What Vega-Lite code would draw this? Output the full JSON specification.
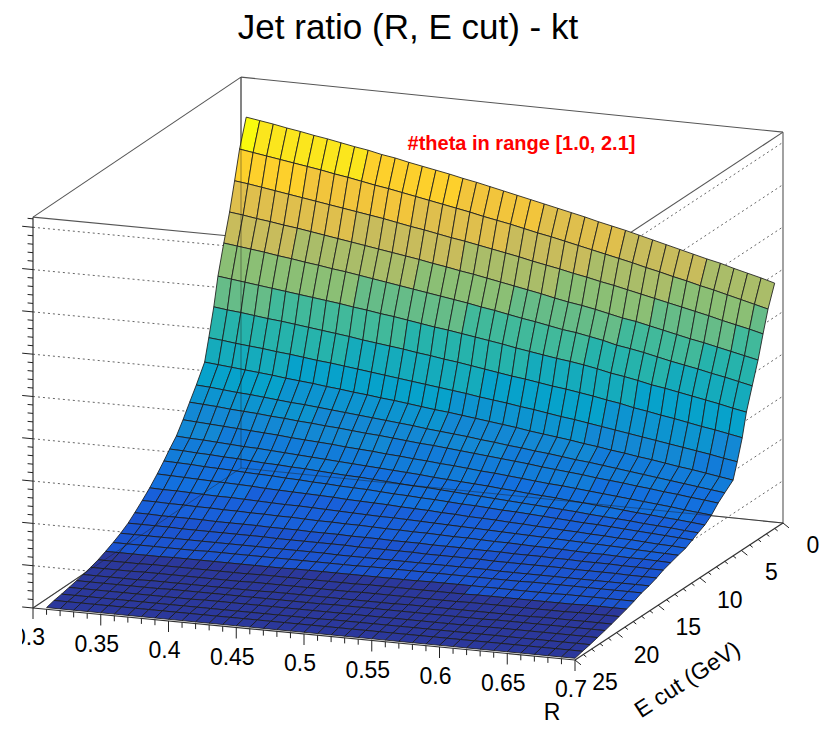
{"$schema":"https://vega.github.io/schema/vega-lite/v6.json","width":798,"height":729,"autosize":{"type":"none"},"padding":{"left":22,"top":0,"right":0,"bottom":0},"background":"white","config":{"view":{"stroke":null}},
"title":{"text":"Jet ratio (R, E cut) - kt","fontSize":35,"font":"Liberation Sans","fontWeight":"normal","color":"#000","anchor":"middle","dx":-13,"offset":-46},
"datasets":{
"frame":[
{"g":"edge","R":0.3,"E":25,"z":92.4,"R2":0.3,"E2":0,"z2":92.4},
{"g":"edge","R":0.3,"E":0,"z":92.4,"R2":0.7,"E2":0,"z2":92.4},
{"g":"edge","R":0.7,"E":0,"z":92.4,"R2":0.7,"E2":25,"z2":92.4},
{"g":"edge","R":0.3,"E":25,"z":92.4,"R2":0.7,"E2":25,"z2":92.4},
{"g":"edge","R":0.3,"E":0,"z":0,"R2":0.3,"E2":0,"z2":92.4},
{"g":"edge","R":0.7,"E":0,"z":0,"R2":0.7,"E2":0,"z2":92.4},
{"g":"edge","R":0.3,"E":0,"z":0,"R2":0.7,"E2":0,"z2":0},
{"g":"edge","R":0.3,"E":0,"z":0,"R2":0.3,"E2":25,"z2":0},
{"g":"over","R":0.3,"E":0,"z":0,"R2":0.3,"E2":0,"z2":92.4},
{"g":"over","R":0.3,"E":0,"z":0,"R2":0.7,"E2":0,"z2":0},
{"g":"over","R":0.3,"E":0,"z":0,"R2":0.3,"E2":25,"z2":0},
{"g":"axis","R":0.3,"E":25,"z":0,"R2":0.3,"E2":25,"z2":92.4},
{"g":"axis","R":0.3,"E":25,"z":0,"R2":0.7,"E2":25,"z2":0},
{"g":"axis","R":0.7,"E":25,"z":0,"R2":0.7,"E2":0,"z2":0},
{"g":"dot","R":0.3,"E":25,"z":10,"R2":0.7,"E2":25,"z2":10},
{"g":"dot","R":0.3,"E":25,"z":20,"R2":0.7,"E2":25,"z2":20},
{"g":"dot","R":0.3,"E":25,"z":30,"R2":0.7,"E2":25,"z2":30},
{"g":"dot","R":0.3,"E":25,"z":40,"R2":0.7,"E2":25,"z2":40},
{"g":"dot","R":0.3,"E":25,"z":50,"R2":0.7,"E2":25,"z2":50},
{"g":"dot","R":0.3,"E":25,"z":60,"R2":0.7,"E2":25,"z2":60},
{"g":"dot","R":0.3,"E":25,"z":70,"R2":0.7,"E2":25,"z2":70},
{"g":"dot","R":0.3,"E":25,"z":80,"R2":0.7,"E2":25,"z2":80},
{"g":"dot","R":0.3,"E":25,"z":90,"R2":0.7,"E2":25,"z2":90},
{"g":"dot","R":0.7,"E":25,"z":10,"R2":0.7,"E2":0,"z2":10},
{"g":"dot","R":0.7,"E":25,"z":20,"R2":0.7,"E2":0,"z2":20},
{"g":"dot","R":0.7,"E":25,"z":30,"R2":0.7,"E2":0,"z2":30},
{"g":"dot","R":0.7,"E":25,"z":40,"R2":0.7,"E2":0,"z2":40},
{"g":"dot","R":0.7,"E":25,"z":50,"R2":0.7,"E2":0,"z2":50},
{"g":"dot","R":0.7,"E":25,"z":60,"R2":0.7,"E2":0,"z2":60},
{"g":"dot","R":0.7,"E":25,"z":70,"R2":0.7,"E2":0,"z2":70},
{"g":"dot","R":0.7,"E":25,"z":80,"R2":0.7,"E2":0,"z2":80},
{"g":"dot","R":0.7,"E":25,"z":90,"R2":0.7,"E2":0,"z2":90}
],
"ticks":[
{"a":"R","v":0.3,"m":1},{"a":"R","v":0.31,"m":0},{"a":"R","v":0.32,"m":0},{"a":"R","v":0.33,"m":0},{"a":"R","v":0.34,"m":0},{"a":"R","v":0.35,"m":1},{"a":"R","v":0.36,"m":0},{"a":"R","v":0.37,"m":0},{"a":"R","v":0.38,"m":0},{"a":"R","v":0.39,"m":0},{"a":"R","v":0.4,"m":1},{"a":"R","v":0.41,"m":0},{"a":"R","v":0.42,"m":0},{"a":"R","v":0.43,"m":0},{"a":"R","v":0.44,"m":0},{"a":"R","v":0.45,"m":1},{"a":"R","v":0.46,"m":0},{"a":"R","v":0.47,"m":0},{"a":"R","v":0.48,"m":0},{"a":"R","v":0.49,"m":0},{"a":"R","v":0.5,"m":1},{"a":"R","v":0.51,"m":0},{"a":"R","v":0.52,"m":0},{"a":"R","v":0.53,"m":0},{"a":"R","v":0.54,"m":0},{"a":"R","v":0.55,"m":1},{"a":"R","v":0.56,"m":0},{"a":"R","v":0.57,"m":0},{"a":"R","v":0.58,"m":0},{"a":"R","v":0.59,"m":0},{"a":"R","v":0.6,"m":1},{"a":"R","v":0.61,"m":0},{"a":"R","v":0.62,"m":0},{"a":"R","v":0.63,"m":0},{"a":"R","v":0.64,"m":0},{"a":"R","v":0.65,"m":1},{"a":"R","v":0.66,"m":0},{"a":"R","v":0.67,"m":0},{"a":"R","v":0.68,"m":0},{"a":"R","v":0.69,"m":0},{"a":"R","v":0.7,"m":1},
{"a":"E","v":0,"m":1},{"a":"E","v":1,"m":0},{"a":"E","v":2,"m":0},{"a":"E","v":3,"m":0},{"a":"E","v":4,"m":0},{"a":"E","v":5,"m":1},{"a":"E","v":6,"m":0},{"a":"E","v":7,"m":0},{"a":"E","v":8,"m":0},{"a":"E","v":9,"m":0},{"a":"E","v":10,"m":1},{"a":"E","v":11,"m":0},{"a":"E","v":12,"m":0},{"a":"E","v":13,"m":0},{"a":"E","v":14,"m":0},{"a":"E","v":15,"m":1},{"a":"E","v":16,"m":0},{"a":"E","v":17,"m":0},{"a":"E","v":18,"m":0},{"a":"E","v":19,"m":0},{"a":"E","v":20,"m":1},{"a":"E","v":21,"m":0},{"a":"E","v":22,"m":0},{"a":"E","v":23,"m":0},{"a":"E","v":24,"m":0},{"a":"E","v":25,"m":1},
{"a":"Z","v":0,"m":1},{"a":"Z","v":2,"m":0},{"a":"Z","v":4,"m":0},{"a":"Z","v":6,"m":0},{"a":"Z","v":8,"m":0},{"a":"Z","v":10,"m":1},{"a":"Z","v":12,"m":0},{"a":"Z","v":14,"m":0},{"a":"Z","v":16,"m":0},{"a":"Z","v":18,"m":0},{"a":"Z","v":20,"m":1},{"a":"Z","v":22,"m":0},{"a":"Z","v":24,"m":0},{"a":"Z","v":26,"m":0},{"a":"Z","v":28,"m":0},{"a":"Z","v":30,"m":1},{"a":"Z","v":32,"m":0},{"a":"Z","v":34,"m":0},{"a":"Z","v":36,"m":0},{"a":"Z","v":38,"m":0},{"a":"Z","v":40,"m":1},{"a":"Z","v":42,"m":0},{"a":"Z","v":44,"m":0},{"a":"Z","v":46,"m":0},{"a":"Z","v":48,"m":0},{"a":"Z","v":50,"m":1},{"a":"Z","v":52,"m":0},{"a":"Z","v":54,"m":0},{"a":"Z","v":56,"m":0},{"a":"Z","v":58,"m":0},{"a":"Z","v":60,"m":1},{"a":"Z","v":62,"m":0},{"a":"Z","v":64,"m":0},{"a":"Z","v":66,"m":0},{"a":"Z","v":68,"m":0},{"a":"Z","v":70,"m":1},{"a":"Z","v":72,"m":0},{"a":"Z","v":74,"m":0},{"a":"Z","v":76,"m":0},{"a":"Z","v":78,"m":0},{"a":"Z","v":80,"m":1},{"a":"Z","v":82,"m":0},{"a":"Z","v":84,"m":0},{"a":"Z","v":86,"m":0},{"a":"Z","v":88,"m":0},{"a":"Z","v":90,"m":1},{"a":"Z","v":92,"m":0}],
"labels":[{"t":"0.3","R":0.3,"E":25,"a":"R"},{"t":"0.35","R":0.35,"E":25,"a":"R"},{"t":"0.4","R":0.4,"E":25,"a":"R"},{"t":"0.45","R":0.45,"E":25,"a":"R"},{"t":"0.5","R":0.5,"E":25,"a":"R"},{"t":"0.55","R":0.55,"E":25,"a":"R"},{"t":"0.6","R":0.6,"E":25,"a":"R"},{"t":"0.65","R":0.65,"E":25,"a":"R"},{"t":"0.7","R":0.7,"E":25,"a":"R"},{"t":"0","R":0.7,"E":0,"a":"E"},{"t":"5","R":0.7,"E":5,"a":"E"},{"t":"10","R":0.7,"E":10,"a":"E"},{"t":"15","R":0.7,"E":15,"a":"E"},{"t":"20","R":0.7,"E":20,"a":"E"},{"t":"25","R":0.7,"E":25,"a":"E"}],
"surface":[
{"R":0.31,"E":1,"z":84.6},{"R":0.32,"E":1,"z":84.1},{"R":0.33,"E":1,"z":83.6},{"R":0.34,"E":1,"z":83.0},{"R":0.35,"E":1,"z":82.5},{"R":0.36,"E":1,"z":81.9},{"R":0.37,"E":1,"z":81.4},{"R":0.38,"E":1,"z":80.8},{"R":0.39,"E":1,"z":80.2},{"R":0.4,"E":1,"z":79.7},{"R":0.41,"E":1,"z":79.0},{"R":0.42,"E":1,"z":78.5},{"R":0.43,"E":1,"z":77.8},{"R":0.44,"E":1,"z":77.2},{"R":0.45,"E":1,"z":76.6},{"R":0.46,"E":1,"z":76.0},{"R":0.47,"E":1,"z":75.3},{"R":0.48,"E":1,"z":74.7},{"R":0.49,"E":1,"z":74.0},{"R":0.5,"E":1,"z":73.3},{"R":0.51,"E":1,"z":72.6},{"R":0.52,"E":1,"z":71.9},{"R":0.53,"E":1,"z":71.2},{"R":0.54,"E":1,"z":70.5},{"R":0.55,"E":1,"z":69.8},{"R":0.56,"E":1,"z":69.1},{"R":0.57,"E":1,"z":68.3},{"R":0.58,"E":1,"z":67.6},{"R":0.59,"E":1,"z":66.9},{"R":0.6,"E":1,"z":66.1},{"R":0.61,"E":1,"z":65.3},{"R":0.62,"E":1,"z":64.5},{"R":0.63,"E":1,"z":63.7},{"R":0.64,"E":1,"z":62.9},{"R":0.65,"E":1,"z":62.1},{"R":0.66,"E":1,"z":61.4},{"R":0.67,"E":1,"z":60.5},{"R":0.68,"E":1,"z":59.7},{"R":0.69,"E":1,"z":58.9},{"R":0.7,"E":1,"z":58.0},
{"R":0.31,"E":1.8,"z":78.1},{"R":0.32,"E":1.8,"z":77.6},{"R":0.33,"E":1.8,"z":77.1},{"R":0.34,"E":1.8,"z":76.6},{"R":0.35,"E":1.8,"z":76.1},{"R":0.36,"E":1.8,"z":75.6},{"R":0.37,"E":1.8,"z":75.1},{"R":0.38,"E":1.8,"z":74.5},{"R":0.39,"E":1.8,"z":74.0},{"R":0.4,"E":1.8,"z":73.4},{"R":0.41,"E":1.8,"z":72.8},{"R":0.42,"E":1.8,"z":72.3},{"R":0.43,"E":1.8,"z":71.7},{"R":0.44,"E":1.8,"z":71.1},{"R":0.45,"E":1.8,"z":70.5},{"R":0.46,"E":1.8,"z":69.9},{"R":0.47,"E":1.8,"z":69.3},{"R":0.48,"E":1.8,"z":68.7},{"R":0.49,"E":1.8,"z":68.0},{"R":0.5,"E":1.8,"z":67.4},{"R":0.51,"E":1.8,"z":66.8},{"R":0.52,"E":1.8,"z":66.1},{"R":0.53,"E":1.8,"z":65.4},{"R":0.54,"E":1.8,"z":64.8},{"R":0.55,"E":1.8,"z":64.1},{"R":0.56,"E":1.8,"z":63.4},{"R":0.57,"E":1.8,"z":62.7},{"R":0.58,"E":1.8,"z":62.0},{"R":0.59,"E":1.8,"z":61.3},{"R":0.6,"E":1.8,"z":60.6},{"R":0.61,"E":1.8,"z":59.8},{"R":0.62,"E":1.8,"z":59.1},{"R":0.63,"E":1.8,"z":58.3},{"R":0.64,"E":1.8,"z":57.6},{"R":0.65,"E":1.8,"z":56.8},{"R":0.66,"E":1.8,"z":56.1},{"R":0.67,"E":1.8,"z":55.3},{"R":0.68,"E":1.8,"z":54.5},{"R":0.69,"E":1.8,"z":53.7},{"R":0.7,"E":1.8,"z":52.9},
{"R":0.31,"E":2.4,"z":71.4},{"R":0.32,"E":2.4,"z":71.0},{"R":0.33,"E":2.4,"z":70.5},{"R":0.34,"E":2.4,"z":70.0},{"R":0.35,"E":2.4,"z":69.5},{"R":0.36,"E":2.4,"z":69.0},{"R":0.37,"E":2.4,"z":68.5},{"R":0.38,"E":2.4,"z":68.0},{"R":0.39,"E":2.4,"z":67.5},{"R":0.4,"E":2.4,"z":67.0},{"R":0.41,"E":2.4,"z":66.5},{"R":0.42,"E":2.4,"z":66.0},{"R":0.43,"E":2.4,"z":65.4},{"R":0.44,"E":2.4,"z":64.8},{"R":0.45,"E":2.4,"z":64.3},{"R":0.46,"E":2.4,"z":63.7},{"R":0.47,"E":2.4,"z":63.1},{"R":0.48,"E":2.4,"z":62.6},{"R":0.49,"E":2.4,"z":62.0},{"R":0.5,"E":2.4,"z":61.4},{"R":0.51,"E":2.4,"z":60.8},{"R":0.52,"E":2.4,"z":60.2},{"R":0.53,"E":2.4,"z":59.5},{"R":0.54,"E":2.4,"z":58.9},{"R":0.55,"E":2.4,"z":58.3},{"R":0.56,"E":2.4,"z":57.6},{"R":0.57,"E":2.4,"z":57.0},{"R":0.58,"E":2.4,"z":56.3},{"R":0.59,"E":2.4,"z":55.7},{"R":0.6,"E":2.4,"z":55.0},{"R":0.61,"E":2.4,"z":54.3},{"R":0.62,"E":2.4,"z":53.6},{"R":0.63,"E":2.4,"z":52.9},{"R":0.64,"E":2.4,"z":52.2},{"R":0.65,"E":2.4,"z":51.5},{"R":0.66,"E":2.4,"z":50.8},{"R":0.67,"E":2.4,"z":50.0},{"R":0.68,"E":2.4,"z":49.3},{"R":0.69,"E":2.4,"z":48.6},{"R":0.7,"E":2.4,"z":47.8},
{"R":0.31,"E":3,"z":64.8},{"R":0.32,"E":3,"z":64.4},{"R":0.33,"E":3,"z":63.9},{"R":0.34,"E":3,"z":63.5},{"R":0.35,"E":3,"z":63.0},{"R":0.36,"E":3,"z":62.6},{"R":0.37,"E":3,"z":62.1},{"R":0.38,"E":3,"z":61.6},{"R":0.39,"E":3,"z":61.1},{"R":0.4,"E":3,"z":60.6},{"R":0.41,"E":3,"z":60.1},{"R":0.42,"E":3,"z":59.6},{"R":0.43,"E":3,"z":59.1},{"R":0.44,"E":3,"z":58.6},{"R":0.45,"E":3,"z":58.1},{"R":0.46,"E":3,"z":57.5},{"R":0.47,"E":3,"z":57.0},{"R":0.48,"E":3,"z":56.4},{"R":0.49,"E":3,"z":55.9},{"R":0.5,"E":3,"z":55.3},{"R":0.51,"E":3,"z":54.7},{"R":0.52,"E":3,"z":54.1},{"R":0.53,"E":3,"z":53.5},{"R":0.54,"E":3,"z":52.9},{"R":0.55,"E":3,"z":52.2},{"R":0.56,"E":3,"z":51.6},{"R":0.57,"E":3,"z":51.1},{"R":0.58,"E":3,"z":50.5},{"R":0.59,"E":3,"z":49.8},{"R":0.6,"E":3,"z":49.1},{"R":0.61,"E":3,"z":48.6},{"R":0.62,"E":3,"z":47.9},{"R":0.63,"E":3,"z":47.2},{"R":0.64,"E":3,"z":46.5},{"R":0.65,"E":3,"z":45.8},{"R":0.66,"E":3,"z":45.2},{"R":0.67,"E":3,"z":44.5},{"R":0.68,"E":3,"z":43.8},{"R":0.69,"E":3,"z":43.1},{"R":0.7,"E":3,"z":42.4},
{"R":0.31,"E":3.7,"z":58.4},{"R":0.32,"E":3.7,"z":58.0},{"R":0.33,"E":3.7,"z":57.6},{"R":0.34,"E":3.7,"z":57.2},{"R":0.35,"E":3.7,"z":56.7},{"R":0.36,"E":3.7,"z":56.3},{"R":0.37,"E":3.7,"z":55.8},{"R":0.38,"E":3.7,"z":55.4},{"R":0.39,"E":3.7,"z":54.9},{"R":0.4,"E":3.7,"z":54.5},{"R":0.41,"E":3.7,"z":54.0},{"R":0.42,"E":3.7,"z":53.5},{"R":0.43,"E":3.7,"z":53.0},{"R":0.44,"E":3.7,"z":52.5},{"R":0.45,"E":3.7,"z":52.0},{"R":0.46,"E":3.7,"z":51.5},{"R":0.47,"E":3.7,"z":51.0},{"R":0.48,"E":3.7,"z":50.5},{"R":0.49,"E":3.7,"z":50.0},{"R":0.5,"E":3.7,"z":49.4},{"R":0.51,"E":3.7,"z":48.9},{"R":0.52,"E":3.7,"z":48.3},{"R":0.53,"E":3.7,"z":47.7},{"R":0.54,"E":3.7,"z":47.2},{"R":0.55,"E":3.7,"z":46.6},{"R":0.56,"E":3.7,"z":46.0},{"R":0.57,"E":3.7,"z":45.6},{"R":0.58,"E":3.7,"z":45.0},{"R":0.59,"E":3.7,"z":44.4},{"R":0.6,"E":3.7,"z":43.6},{"R":0.61,"E":3.7,"z":43.1},{"R":0.62,"E":3.7,"z":42.5},{"R":0.63,"E":3.7,"z":41.8},{"R":0.64,"E":3.7,"z":41.1},{"R":0.65,"E":3.7,"z":40.5},{"R":0.66,"E":3.7,"z":39.9},{"R":0.67,"E":3.7,"z":39.2},{"R":0.68,"E":3.7,"z":38.6},{"R":0.69,"E":3.7,"z":37.9},{"R":0.7,"E":3.7,"z":37.2},
{"R":0.31,"E":4.4,"z":51.5},{"R":0.32,"E":4.4,"z":51.1},{"R":0.33,"E":4.4,"z":50.7},{"R":0.34,"E":4.4,"z":50.3},{"R":0.35,"E":4.4,"z":49.9},{"R":0.36,"E":4.4,"z":49.5},{"R":0.37,"E":4.4,"z":49.1},{"R":0.38,"E":4.4,"z":48.7},{"R":0.39,"E":4.4,"z":48.3},{"R":0.4,"E":4.4,"z":47.9},{"R":0.41,"E":4.4,"z":47.4},{"R":0.42,"E":4.4,"z":47.0},{"R":0.43,"E":4.4,"z":46.5},{"R":0.44,"E":4.4,"z":46.1},{"R":0.45,"E":4.4,"z":45.6},{"R":0.46,"E":4.4,"z":45.1},{"R":0.47,"E":4.4,"z":44.6},{"R":0.48,"E":4.4,"z":44.2},{"R":0.49,"E":4.4,"z":43.7},{"R":0.5,"E":4.4,"z":43.2},{"R":0.51,"E":4.4,"z":42.7},{"R":0.52,"E":4.4,"z":42.2},{"R":0.53,"E":4.4,"z":41.6},{"R":0.54,"E":4.4,"z":41.1},{"R":0.55,"E":4.4,"z":40.6},{"R":0.56,"E":4.4,"z":40.1},{"R":0.57,"E":4.4,"z":39.7},{"R":0.58,"E":4.4,"z":39.2},{"R":0.59,"E":4.4,"z":38.6},{"R":0.6,"E":4.4,"z":37.9},{"R":0.61,"E":4.4,"z":37.4},{"R":0.62,"E":4.4,"z":36.8},{"R":0.63,"E":4.4,"z":36.1},{"R":0.64,"E":4.4,"z":35.6},{"R":0.65,"E":4.4,"z":35.0},{"R":0.66,"E":4.4,"z":34.4},{"R":0.67,"E":4.4,"z":33.8},{"R":0.68,"E":4.4,"z":33.2},{"R":0.69,"E":4.4,"z":32.5},{"R":0.7,"E":4.4,"z":31.9},
{"R":0.31,"E":4.9,"z":44.9},{"R":0.32,"E":4.9,"z":44.5},{"R":0.33,"E":4.9,"z":44.2},{"R":0.34,"E":4.9,"z":43.8},{"R":0.35,"E":4.9,"z":43.4},{"R":0.36,"E":4.9,"z":43.1},{"R":0.37,"E":4.9,"z":42.7},{"R":0.38,"E":4.9,"z":42.3},{"R":0.39,"E":4.9,"z":41.9},{"R":0.4,"E":4.9,"z":41.5},{"R":0.41,"E":4.9,"z":41.1},{"R":0.42,"E":4.9,"z":40.6},{"R":0.43,"E":4.9,"z":40.2},{"R":0.44,"E":4.9,"z":39.8},{"R":0.45,"E":4.9,"z":39.4},{"R":0.46,"E":4.9,"z":38.9},{"R":0.47,"E":4.9,"z":38.5},{"R":0.48,"E":4.9,"z":38.0},{"R":0.49,"E":4.9,"z":37.6},{"R":0.5,"E":4.9,"z":37.1},{"R":0.51,"E":4.9,"z":36.6},{"R":0.52,"E":4.9,"z":36.1},{"R":0.53,"E":4.9,"z":35.6},{"R":0.54,"E":4.9,"z":35.2},{"R":0.55,"E":4.9,"z":34.7},{"R":0.56,"E":4.9,"z":34.2},{"R":0.57,"E":4.9,"z":33.8},{"R":0.58,"E":4.9,"z":33.3},{"R":0.59,"E":4.9,"z":32.8},{"R":0.6,"E":4.9,"z":32.2},{"R":0.61,"E":4.9,"z":31.7},{"R":0.62,"E":4.9,"z":31.0},{"R":0.63,"E":4.9,"z":30.5},{"R":0.64,"E":4.9,"z":29.9},{"R":0.65,"E":4.9,"z":29.4},{"R":0.66,"E":4.9,"z":28.8},{"R":0.67,"E":4.9,"z":28.2},{"R":0.68,"E":4.9,"z":27.7},{"R":0.69,"E":4.9,"z":27.1},{"R":0.7,"E":4.9,"z":26.5},
{"R":0.31,"E":5.5,"z":38.4},{"R":0.32,"E":5.5,"z":38.1},{"R":0.33,"E":5.5,"z":37.7},{"R":0.34,"E":5.5,"z":37.4},{"R":0.35,"E":5.5,"z":37.1},{"R":0.36,"E":5.5,"z":36.7},{"R":0.37,"E":5.5,"z":36.4},{"R":0.38,"E":5.5,"z":36.0},{"R":0.39,"E":5.5,"z":35.6},{"R":0.4,"E":5.5,"z":35.3},{"R":0.41,"E":5.5,"z":34.9},{"R":0.42,"E":5.5,"z":34.5},{"R":0.43,"E":5.5,"z":34.1},{"R":0.44,"E":5.5,"z":33.7},{"R":0.45,"E":5.5,"z":33.3},{"R":0.46,"E":5.5,"z":32.9},{"R":0.47,"E":5.5,"z":32.5},{"R":0.48,"E":5.5,"z":32.1},{"R":0.49,"E":5.5,"z":31.7},{"R":0.5,"E":5.5,"z":31.3},{"R":0.51,"E":5.5,"z":30.8},{"R":0.52,"E":5.5,"z":30.4},{"R":0.53,"E":5.5,"z":30.0},{"R":0.54,"E":5.5,"z":29.5},{"R":0.55,"E":5.5,"z":29.1},{"R":0.56,"E":5.5,"z":28.6},{"R":0.57,"E":5.5,"z":28.1},{"R":0.58,"E":5.5,"z":27.7},{"R":0.59,"E":5.5,"z":27.2},{"R":0.6,"E":5.5,"z":26.7},{"R":0.61,"E":5.5,"z":26.2},{"R":0.62,"E":5.5,"z":25.7},{"R":0.63,"E":5.5,"z":25.2},{"R":0.64,"E":5.5,"z":24.7},{"R":0.65,"E":5.5,"z":24.2},{"R":0.66,"E":5.5,"z":23.7},{"R":0.67,"E":5.5,"z":23.2},{"R":0.68,"E":5.5,"z":22.7},{"R":0.69,"E":5.5,"z":22.1},{"R":0.7,"E":5.5,"z":21.6},
{"R":0.31,"E":6,"z":33.3},{"R":0.32,"E":6,"z":33.0},{"R":0.33,"E":6,"z":32.7},{"R":0.34,"E":6,"z":32.4},{"R":0.35,"E":6,"z":32.1},{"R":0.36,"E":6,"z":31.8},{"R":0.37,"E":6,"z":31.4},{"R":0.38,"E":6,"z":31.1},{"R":0.39,"E":6,"z":30.8},{"R":0.4,"E":6,"z":30.4},{"R":0.41,"E":6,"z":30.1},{"R":0.42,"E":6,"z":29.7},{"R":0.43,"E":6,"z":29.4},{"R":0.44,"E":6,"z":29.0},{"R":0.45,"E":6,"z":28.7},{"R":0.46,"E":6,"z":28.3},{"R":0.47,"E":6,"z":27.9},{"R":0.48,"E":6,"z":27.5},{"R":0.49,"E":6,"z":27.2},{"R":0.5,"E":6,"z":26.8},{"R":0.51,"E":6,"z":26.4},{"R":0.52,"E":6,"z":26.0},{"R":0.53,"E":6,"z":25.6},{"R":0.54,"E":6,"z":25.2},{"R":0.55,"E":6,"z":24.7},{"R":0.56,"E":6,"z":24.3},{"R":0.57,"E":6,"z":23.9},{"R":0.58,"E":6,"z":23.5},{"R":0.59,"E":6,"z":23.0},{"R":0.6,"E":6,"z":22.6},{"R":0.61,"E":6,"z":22.1},{"R":0.62,"E":6,"z":21.7},{"R":0.63,"E":6,"z":21.2},{"R":0.64,"E":6,"z":20.8},{"R":0.65,"E":6,"z":20.3},{"R":0.66,"E":6,"z":19.8},{"R":0.67,"E":6,"z":19.4},{"R":0.68,"E":6,"z":18.9},{"R":0.69,"E":6,"z":18.4},{"R":0.7,"E":6,"z":17.9},
{"R":0.31,"E":7,"z":29.2},{"R":0.32,"E":7,"z":29.0},{"R":0.33,"E":7,"z":28.7},{"R":0.34,"E":7,"z":28.4},{"R":0.35,"E":7,"z":28.2},{"R":0.36,"E":7,"z":27.9},{"R":0.37,"E":7,"z":27.6},{"R":0.38,"E":7,"z":27.3},{"R":0.39,"E":7,"z":27.1},{"R":0.4,"E":7,"z":26.8},{"R":0.41,"E":7,"z":26.5},{"R":0.42,"E":7,"z":26.2},{"R":0.43,"E":7,"z":25.9},{"R":0.44,"E":7,"z":25.6},{"R":0.45,"E":7,"z":25.3},{"R":0.46,"E":7,"z":25.0},{"R":0.47,"E":7,"z":24.7},{"R":0.48,"E":7,"z":24.3},{"R":0.49,"E":7,"z":24.0},{"R":0.5,"E":7,"z":23.7},{"R":0.51,"E":7,"z":23.4},{"R":0.52,"E":7,"z":23.0},{"R":0.53,"E":7,"z":22.7},{"R":0.54,"E":7,"z":22.3},{"R":0.55,"E":7,"z":22.0},{"R":0.56,"E":7,"z":21.6},{"R":0.57,"E":7,"z":21.3},{"R":0.58,"E":7,"z":20.9},{"R":0.59,"E":7,"z":20.5},{"R":0.6,"E":7,"z":20.2},{"R":0.61,"E":7,"z":19.8},{"R":0.62,"E":7,"z":19.4},{"R":0.63,"E":7,"z":19.0},{"R":0.64,"E":7,"z":18.6},{"R":0.65,"E":7,"z":18.2},{"R":0.66,"E":7,"z":17.8},{"R":0.67,"E":7,"z":17.4},{"R":0.68,"E":7,"z":17.0},{"R":0.69,"E":7,"z":16.6},{"R":0.7,"E":7,"z":16.2},
{"R":0.31,"E":7.8,"z":26.2},{"R":0.32,"E":7.8,"z":26.0},{"R":0.33,"E":7.8,"z":25.8},{"R":0.34,"E":7.8,"z":25.5},{"R":0.35,"E":7.8,"z":25.3},{"R":0.36,"E":7.8,"z":25.1},{"R":0.37,"E":7.8,"z":24.8},{"R":0.38,"E":7.8,"z":24.6},{"R":0.39,"E":7.8,"z":24.3},{"R":0.4,"E":7.8,"z":24.1},{"R":0.41,"E":7.8,"z":23.8},{"R":0.42,"E":7.8,"z":23.6},{"R":0.43,"E":7.8,"z":23.3},{"R":0.44,"E":7.8,"z":23.0},{"R":0.45,"E":7.8,"z":22.8},{"R":0.46,"E":7.8,"z":22.5},{"R":0.47,"E":7.8,"z":22.2},{"R":0.48,"E":7.8,"z":21.9},{"R":0.49,"E":7.8,"z":21.7},{"R":0.5,"E":7.8,"z":21.4},{"R":0.51,"E":7.8,"z":21.1},{"R":0.52,"E":7.8,"z":20.8},{"R":0.53,"E":7.8,"z":20.5},{"R":0.54,"E":7.8,"z":20.2},{"R":0.55,"E":7.8,"z":19.9},{"R":0.56,"E":7.8,"z":19.6},{"R":0.57,"E":7.8,"z":19.2},{"R":0.58,"E":7.8,"z":18.9},{"R":0.59,"E":7.8,"z":18.6},{"R":0.6,"E":7.8,"z":18.3},{"R":0.61,"E":7.8,"z":17.9},{"R":0.62,"E":7.8,"z":17.6},{"R":0.63,"E":7.8,"z":17.3},{"R":0.64,"E":7.8,"z":16.9},{"R":0.65,"E":7.8,"z":16.6},{"R":0.66,"E":7.8,"z":16.2},{"R":0.67,"E":7.8,"z":15.9},{"R":0.68,"E":7.8,"z":15.5},{"R":0.69,"E":7.8,"z":15.2},{"R":0.7,"E":7.8,"z":14.8},
{"R":0.31,"E":8.6,"z":23.1},{"R":0.32,"E":8.6,"z":22.9},{"R":0.33,"E":8.6,"z":22.7},{"R":0.34,"E":8.6,"z":22.5},{"R":0.35,"E":8.6,"z":22.3},{"R":0.36,"E":8.6,"z":22.1},{"R":0.37,"E":8.6,"z":21.9},{"R":0.38,"E":8.6,"z":21.7},{"R":0.39,"E":8.6,"z":21.4},{"R":0.4,"E":8.6,"z":21.2},{"R":0.41,"E":8.6,"z":21.0},{"R":0.42,"E":8.6,"z":20.8},{"R":0.43,"E":8.6,"z":20.5},{"R":0.44,"E":8.6,"z":20.3},{"R":0.45,"E":8.6,"z":20.1},{"R":0.46,"E":8.6,"z":19.8},{"R":0.47,"E":8.6,"z":19.6},{"R":0.48,"E":8.6,"z":19.3},{"R":0.49,"E":8.6,"z":19.1},{"R":0.5,"E":8.6,"z":18.8},{"R":0.51,"E":8.6,"z":18.6},{"R":0.52,"E":8.6,"z":18.3},{"R":0.53,"E":8.6,"z":18.0},{"R":0.54,"E":8.6,"z":17.8},{"R":0.55,"E":8.6,"z":17.5},{"R":0.56,"E":8.6,"z":17.2},{"R":0.57,"E":8.6,"z":16.9},{"R":0.58,"E":8.6,"z":16.6},{"R":0.59,"E":8.6,"z":16.4},{"R":0.6,"E":8.6,"z":16.1},{"R":0.61,"E":8.6,"z":15.8},{"R":0.62,"E":8.6,"z":15.5},{"R":0.63,"E":8.6,"z":15.2},{"R":0.64,"E":8.6,"z":14.9},{"R":0.65,"E":8.6,"z":14.6},{"R":0.66,"E":8.6,"z":14.3},{"R":0.67,"E":8.6,"z":14.0},{"R":0.68,"E":8.6,"z":13.6},{"R":0.69,"E":8.6,"z":13.3},{"R":0.7,"E":8.6,"z":13.0},
{"R":0.31,"E":9.4,"z":20.3},{"R":0.32,"E":9.4,"z":20.1},{"R":0.33,"E":9.4,"z":20.0},{"R":0.34,"E":9.4,"z":19.8},{"R":0.35,"E":9.4,"z":19.6},{"R":0.36,"E":9.4,"z":19.4},{"R":0.37,"E":9.4,"z":19.3},{"R":0.38,"E":9.4,"z":19.1},{"R":0.39,"E":9.4,"z":18.9},{"R":0.4,"E":9.4,"z":18.7},{"R":0.41,"E":9.4,"z":18.5},{"R":0.42,"E":9.4,"z":18.3},{"R":0.43,"E":9.4,"z":18.1},{"R":0.44,"E":9.4,"z":17.9},{"R":0.45,"E":9.4,"z":17.7},{"R":0.46,"E":9.4,"z":17.5},{"R":0.47,"E":9.4,"z":17.3},{"R":0.48,"E":9.4,"z":17.1},{"R":0.49,"E":9.4,"z":16.9},{"R":0.5,"E":9.4,"z":16.6},{"R":0.51,"E":9.4,"z":16.4},{"R":0.52,"E":9.4,"z":16.2},{"R":0.53,"E":9.4,"z":16.0},{"R":0.54,"E":9.4,"z":15.8},{"R":0.55,"E":9.4,"z":15.5},{"R":0.56,"E":9.4,"z":15.3},{"R":0.57,"E":9.4,"z":15.0},{"R":0.58,"E":9.4,"z":14.8},{"R":0.59,"E":9.4,"z":14.6},{"R":0.6,"E":9.4,"z":14.3},{"R":0.61,"E":9.4,"z":14.1},{"R":0.62,"E":9.4,"z":13.8},{"R":0.63,"E":9.4,"z":13.6},{"R":0.64,"E":9.4,"z":13.3},{"R":0.65,"E":9.4,"z":13.0},{"R":0.66,"E":9.4,"z":12.8},{"R":0.67,"E":9.4,"z":12.5},{"R":0.68,"E":9.4,"z":12.3},{"R":0.69,"E":9.4,"z":12.0},{"R":0.7,"E":9.4,"z":11.7},
{"R":0.31,"E":10.2,"z":18.3},{"R":0.32,"E":10.2,"z":18.2},{"R":0.33,"E":10.2,"z":18.0},{"R":0.34,"E":10.2,"z":17.9},{"R":0.35,"E":10.2,"z":17.7},{"R":0.36,"E":10.2,"z":17.6},{"R":0.37,"E":10.2,"z":17.4},{"R":0.38,"E":10.2,"z":17.2},{"R":0.39,"E":10.2,"z":17.1},{"R":0.4,"E":10.2,"z":16.9},{"R":0.41,"E":10.2,"z":16.8},{"R":0.42,"E":10.2,"z":16.6},{"R":0.43,"E":10.2,"z":16.4},{"R":0.44,"E":10.2,"z":16.2},{"R":0.45,"E":10.2,"z":16.1},{"R":0.46,"E":10.2,"z":15.9},{"R":0.47,"E":10.2,"z":15.7},{"R":0.48,"E":10.2,"z":15.5},{"R":0.49,"E":10.2,"z":15.3},{"R":0.5,"E":10.2,"z":15.2},{"R":0.51,"E":10.2,"z":15.0},{"R":0.52,"E":10.2,"z":14.8},{"R":0.53,"E":10.2,"z":14.6},{"R":0.54,"E":10.2,"z":14.4},{"R":0.55,"E":10.2,"z":14.2},{"R":0.56,"E":10.2,"z":14.0},{"R":0.57,"E":10.2,"z":13.8},{"R":0.58,"E":10.2,"z":13.6},{"R":0.59,"E":10.2,"z":13.4},{"R":0.6,"E":10.2,"z":13.2},{"R":0.61,"E":10.2,"z":13.0},{"R":0.62,"E":10.2,"z":12.7},{"R":0.63,"E":10.2,"z":12.5},{"R":0.64,"E":10.2,"z":12.3},{"R":0.65,"E":10.2,"z":12.1},{"R":0.66,"E":10.2,"z":11.8},{"R":0.67,"E":10.2,"z":11.6},{"R":0.68,"E":10.2,"z":11.4},{"R":0.69,"E":10.2,"z":11.1},{"R":0.7,"E":10.2,"z":10.9},
{"R":0.31,"E":10.9,"z":16.4},{"R":0.32,"E":10.9,"z":16.3},{"R":0.33,"E":10.9,"z":16.2},{"R":0.34,"E":10.9,"z":16.0},{"R":0.35,"E":10.9,"z":15.9},{"R":0.36,"E":10.9,"z":15.8},{"R":0.37,"E":10.9,"z":15.6},{"R":0.38,"E":10.9,"z":15.5},{"R":0.39,"E":10.9,"z":15.4},{"R":0.4,"E":10.9,"z":15.2},{"R":0.41,"E":10.9,"z":15.1},{"R":0.42,"E":10.9,"z":14.9},{"R":0.43,"E":10.9,"z":14.8},{"R":0.44,"E":10.9,"z":14.6},{"R":0.45,"E":10.9,"z":14.5},{"R":0.46,"E":10.9,"z":14.4},{"R":0.47,"E":10.9,"z":14.2},{"R":0.48,"E":10.9,"z":14.0},{"R":0.49,"E":10.9,"z":13.9},{"R":0.5,"E":10.9,"z":13.7},{"R":0.51,"E":10.9,"z":13.6},{"R":0.52,"E":10.9,"z":13.4},{"R":0.53,"E":10.9,"z":13.2},{"R":0.54,"E":10.9,"z":13.1},{"R":0.55,"E":10.9,"z":12.9},{"R":0.56,"E":10.9,"z":12.7},{"R":0.57,"E":10.9,"z":12.6},{"R":0.58,"E":10.9,"z":12.4},{"R":0.59,"E":10.9,"z":12.2},{"R":0.6,"E":10.9,"z":12.0},{"R":0.61,"E":10.9,"z":11.8},{"R":0.62,"E":10.9,"z":11.6},{"R":0.63,"E":10.9,"z":11.5},{"R":0.64,"E":10.9,"z":11.3},{"R":0.65,"E":10.9,"z":11.1},{"R":0.66,"E":10.9,"z":10.9},{"R":0.67,"E":10.9,"z":10.7},{"R":0.68,"E":10.9,"z":10.5},{"R":0.69,"E":10.9,"z":10.3},{"R":0.7,"E":10.9,"z":10.1},
{"R":0.31,"E":11.7,"z":14.4},{"R":0.32,"E":11.7,"z":14.3},{"R":0.33,"E":11.7,"z":14.2},{"R":0.34,"E":11.7,"z":14.1},{"R":0.35,"E":11.7,"z":14.0},{"R":0.36,"E":11.7,"z":13.9},{"R":0.37,"E":11.7,"z":13.8},{"R":0.38,"E":11.7,"z":13.7},{"R":0.39,"E":11.7,"z":13.5},{"R":0.4,"E":11.7,"z":13.4},{"R":0.41,"E":11.7,"z":13.3},{"R":0.42,"E":11.7,"z":13.2},{"R":0.43,"E":11.7,"z":13.1},{"R":0.44,"E":11.7,"z":13.0},{"R":0.45,"E":11.7,"z":12.8},{"R":0.46,"E":11.7,"z":12.7},{"R":0.47,"E":11.7,"z":12.6},{"R":0.48,"E":11.7,"z":12.5},{"R":0.49,"E":11.7,"z":12.3},{"R":0.5,"E":11.7,"z":12.2},{"R":0.51,"E":11.7,"z":12.1},{"R":0.52,"E":11.7,"z":11.9},{"R":0.53,"E":11.7,"z":11.8},{"R":0.54,"E":11.7,"z":11.6},{"R":0.55,"E":11.7,"z":11.5},{"R":0.56,"E":11.7,"z":11.4},{"R":0.57,"E":11.7,"z":11.2},{"R":0.58,"E":11.7,"z":11.1},{"R":0.59,"E":11.7,"z":10.9},{"R":0.6,"E":11.7,"z":10.8},{"R":0.61,"E":11.7,"z":10.6},{"R":0.62,"E":11.7,"z":10.5},{"R":0.63,"E":11.7,"z":10.3},{"R":0.64,"E":11.7,"z":10.2},{"R":0.65,"E":11.7,"z":10.0},{"R":0.66,"E":11.7,"z":9.9},{"R":0.67,"E":11.7,"z":9.7},{"R":0.68,"E":11.7,"z":9.5},{"R":0.69,"E":11.7,"z":9.4},{"R":0.7,"E":11.7,"z":9.2},
{"R":0.31,"E":12.6,"z":12.3},{"R":0.32,"E":12.6,"z":12.2},{"R":0.33,"E":12.6,"z":12.2},{"R":0.34,"E":12.6,"z":12.1},{"R":0.35,"E":12.6,"z":12.0},{"R":0.36,"E":12.6,"z":11.9},{"R":0.37,"E":12.6,"z":11.9},{"R":0.38,"E":12.6,"z":11.8},{"R":0.39,"E":12.6,"z":11.7},{"R":0.4,"E":12.6,"z":11.6},{"R":0.41,"E":12.6,"z":11.5},{"R":0.42,"E":12.6,"z":11.5},{"R":0.43,"E":12.6,"z":11.4},{"R":0.44,"E":12.6,"z":11.3},{"R":0.45,"E":12.6,"z":11.2},{"R":0.46,"E":12.6,"z":11.1},{"R":0.47,"E":12.6,"z":11.0},{"R":0.48,"E":12.6,"z":10.9},{"R":0.49,"E":12.6,"z":10.9},{"R":0.5,"E":12.6,"z":10.8},{"R":0.51,"E":12.6,"z":10.7},{"R":0.52,"E":12.6,"z":10.6},{"R":0.53,"E":12.6,"z":10.5},{"R":0.54,"E":12.6,"z":10.4},{"R":0.55,"E":12.6,"z":10.3},{"R":0.56,"E":12.6,"z":10.2},{"R":0.57,"E":12.6,"z":10.1},{"R":0.58,"E":12.6,"z":10.0},{"R":0.59,"E":12.6,"z":9.9},{"R":0.6,"E":12.6,"z":9.8},{"R":0.61,"E":12.6,"z":9.7},{"R":0.62,"E":12.6,"z":9.6},{"R":0.63,"E":12.6,"z":9.5},{"R":0.64,"E":12.6,"z":9.4},{"R":0.65,"E":12.6,"z":9.3},{"R":0.66,"E":12.6,"z":9.2},{"R":0.67,"E":12.6,"z":9.0},{"R":0.68,"E":12.6,"z":8.9},{"R":0.69,"E":12.6,"z":8.8},{"R":0.7,"E":12.6,"z":8.7},
{"R":0.31,"E":13.5,"z":10.5},{"R":0.32,"E":13.5,"z":10.5},{"R":0.33,"E":13.5,"z":10.4},{"R":0.34,"E":13.5,"z":10.4},{"R":0.35,"E":13.5,"z":10.3},{"R":0.36,"E":13.5,"z":10.3},{"R":0.37,"E":13.5,"z":10.2},{"R":0.38,"E":13.5,"z":10.2},{"R":0.39,"E":13.5,"z":10.1},{"R":0.4,"E":13.5,"z":10.1},{"R":0.41,"E":13.5,"z":10.0},{"R":0.42,"E":13.5,"z":10.0},{"R":0.43,"E":13.5,"z":9.9},{"R":0.44,"E":13.5,"z":9.8},{"R":0.45,"E":13.5,"z":9.8},{"R":0.46,"E":13.5,"z":9.7},{"R":0.47,"E":13.5,"z":9.7},{"R":0.48,"E":13.5,"z":9.6},{"R":0.49,"E":13.5,"z":9.5},{"R":0.5,"E":13.5,"z":9.5},{"R":0.51,"E":13.5,"z":9.4},{"R":0.52,"E":13.5,"z":9.4},{"R":0.53,"E":13.5,"z":9.3},{"R":0.54,"E":13.5,"z":9.2},{"R":0.55,"E":13.5,"z":9.2},{"R":0.56,"E":13.5,"z":9.1},{"R":0.57,"E":13.5,"z":9.0},{"R":0.58,"E":13.5,"z":9.0},{"R":0.59,"E":13.5,"z":8.9},{"R":0.6,"E":13.5,"z":8.8},{"R":0.61,"E":13.5,"z":8.8},{"R":0.62,"E":13.5,"z":8.7},{"R":0.63,"E":13.5,"z":8.6},{"R":0.64,"E":13.5,"z":8.5},{"R":0.65,"E":13.5,"z":8.5},{"R":0.66,"E":13.5,"z":8.4},{"R":0.67,"E":13.5,"z":8.3},{"R":0.68,"E":13.5,"z":8.3},{"R":0.69,"E":13.5,"z":8.2},{"R":0.7,"E":13.5,"z":8.1},
{"R":0.31,"E":14.4,"z":8.8},{"R":0.32,"E":14.4,"z":8.8},{"R":0.33,"E":14.4,"z":8.7},{"R":0.34,"E":14.4,"z":8.7},{"R":0.35,"E":14.4,"z":8.7},{"R":0.36,"E":14.4,"z":8.7},{"R":0.37,"E":14.4,"z":8.6},{"R":0.38,"E":14.4,"z":8.6},{"R":0.39,"E":14.4,"z":8.6},{"R":0.4,"E":14.4,"z":8.6},{"R":0.41,"E":14.4,"z":8.5},{"R":0.42,"E":14.4,"z":8.5},{"R":0.43,"E":14.4,"z":8.5},{"R":0.44,"E":14.4,"z":8.4},{"R":0.45,"E":14.4,"z":8.4},{"R":0.46,"E":14.4,"z":8.4},{"R":0.47,"E":14.4,"z":8.3},{"R":0.48,"E":14.4,"z":8.3},{"R":0.49,"E":14.4,"z":8.3},{"R":0.5,"E":14.4,"z":8.2},{"R":0.51,"E":14.4,"z":8.2},{"R":0.52,"E":14.4,"z":8.2},{"R":0.53,"E":14.4,"z":8.1},{"R":0.54,"E":14.4,"z":8.1},{"R":0.55,"E":14.4,"z":8.1},{"R":0.56,"E":14.4,"z":8.0},{"R":0.57,"E":14.4,"z":8.0},{"R":0.58,"E":14.4,"z":8.0},{"R":0.59,"E":14.4,"z":7.9},{"R":0.6,"E":14.4,"z":7.9},{"R":0.61,"E":14.4,"z":7.9},{"R":0.62,"E":14.4,"z":7.8},{"R":0.63,"E":14.4,"z":7.8},{"R":0.64,"E":14.4,"z":7.7},{"R":0.65,"E":14.4,"z":7.7},{"R":0.66,"E":14.4,"z":7.7},{"R":0.67,"E":14.4,"z":7.6},{"R":0.68,"E":14.4,"z":7.6},{"R":0.69,"E":14.4,"z":7.5},{"R":0.7,"E":14.4,"z":7.5},
{"R":0.31,"E":15.2,"z":7.4},{"R":0.32,"E":15.2,"z":7.4},{"R":0.33,"E":15.2,"z":7.4},{"R":0.34,"E":15.2,"z":7.4},{"R":0.35,"E":15.2,"z":7.3},{"R":0.36,"E":15.2,"z":7.3},{"R":0.37,"E":15.2,"z":7.3},{"R":0.38,"E":15.2,"z":7.3},{"R":0.39,"E":15.2,"z":7.3},{"R":0.4,"E":15.2,"z":7.3},{"R":0.41,"E":15.2,"z":7.3},{"R":0.42,"E":15.2,"z":7.2},{"R":0.43,"E":15.2,"z":7.2},{"R":0.44,"E":15.2,"z":7.2},{"R":0.45,"E":15.2,"z":7.2},{"R":0.46,"E":15.2,"z":7.2},{"R":0.47,"E":15.2,"z":7.2},{"R":0.48,"E":15.2,"z":7.1},{"R":0.49,"E":15.2,"z":7.1},{"R":0.5,"E":15.2,"z":7.1},{"R":0.51,"E":15.2,"z":7.1},{"R":0.52,"E":15.2,"z":7.1},{"R":0.53,"E":15.2,"z":7.0},{"R":0.54,"E":15.2,"z":7.0},{"R":0.55,"E":15.2,"z":7.0},{"R":0.56,"E":15.2,"z":7.0},{"R":0.57,"E":15.2,"z":7.0},{"R":0.58,"E":15.2,"z":6.9},{"R":0.59,"E":15.2,"z":6.9},{"R":0.6,"E":15.2,"z":6.9},{"R":0.61,"E":15.2,"z":6.9},{"R":0.62,"E":15.2,"z":6.9},{"R":0.63,"E":15.2,"z":6.9},{"R":0.64,"E":15.2,"z":6.8},{"R":0.65,"E":15.2,"z":6.8},{"R":0.66,"E":15.2,"z":6.8},{"R":0.67,"E":15.2,"z":6.8},{"R":0.68,"E":15.2,"z":6.7},{"R":0.69,"E":15.2,"z":6.7},{"R":0.7,"E":15.2,"z":6.7},
{"R":0.31,"E":16.1,"z":6.2},{"R":0.32,"E":16.1,"z":6.2},{"R":0.33,"E":16.1,"z":6.2},{"R":0.34,"E":16.1,"z":6.2},{"R":0.35,"E":16.1,"z":6.2},{"R":0.36,"E":16.1,"z":6.2},{"R":0.37,"E":16.1,"z":6.2},{"R":0.38,"E":16.1,"z":6.2},{"R":0.39,"E":16.1,"z":6.2},{"R":0.4,"E":16.1,"z":6.2},{"R":0.41,"E":16.1,"z":6.2},{"R":0.42,"E":16.1,"z":6.2},{"R":0.43,"E":16.1,"z":6.2},{"R":0.44,"E":16.1,"z":6.2},{"R":0.45,"E":16.1,"z":6.2},{"R":0.46,"E":16.1,"z":6.2},{"R":0.47,"E":16.1,"z":6.1},{"R":0.48,"E":16.1,"z":6.1},{"R":0.49,"E":16.1,"z":6.1},{"R":0.5,"E":16.1,"z":6.1},{"R":0.51,"E":16.1,"z":6.1},{"R":0.52,"E":16.1,"z":6.1},{"R":0.53,"E":16.1,"z":6.1},{"R":0.54,"E":16.1,"z":6.1},{"R":0.55,"E":16.1,"z":6.1},{"R":0.56,"E":16.1,"z":6.1},{"R":0.57,"E":16.1,"z":6.1},{"R":0.58,"E":16.1,"z":6.1},{"R":0.59,"E":16.1,"z":6.0},{"R":0.6,"E":16.1,"z":6.0},{"R":0.61,"E":16.1,"z":6.0},{"R":0.62,"E":16.1,"z":6.0},{"R":0.63,"E":16.1,"z":6.0},{"R":0.64,"E":16.1,"z":6.0},{"R":0.65,"E":16.1,"z":6.0},{"R":0.66,"E":16.1,"z":6.0},{"R":0.67,"E":16.1,"z":6.0},{"R":0.68,"E":16.1,"z":6.0},{"R":0.69,"E":16.1,"z":6.0},{"R":0.7,"E":16.1,"z":6.0},
{"R":0.31,"E":17,"z":5.2},{"R":0.32,"E":17,"z":5.2},{"R":0.33,"E":17,"z":5.2},{"R":0.34,"E":17,"z":5.2},{"R":0.35,"E":17,"z":5.2},{"R":0.36,"E":17,"z":5.2},{"R":0.37,"E":17,"z":5.2},{"R":0.38,"E":17,"z":5.3},{"R":0.39,"E":17,"z":5.3},{"R":0.4,"E":17,"z":5.3},{"R":0.41,"E":17,"z":5.3},{"R":0.42,"E":17,"z":5.3},{"R":0.43,"E":17,"z":5.3},{"R":0.44,"E":17,"z":5.3},{"R":0.45,"E":17,"z":5.3},{"R":0.46,"E":17,"z":5.3},{"R":0.47,"E":17,"z":5.3},{"R":0.48,"E":17,"z":5.3},{"R":0.49,"E":17,"z":5.3},{"R":0.5,"E":17,"z":5.4},{"R":0.51,"E":17,"z":5.4},{"R":0.52,"E":17,"z":5.4},{"R":0.53,"E":17,"z":5.4},{"R":0.54,"E":17,"z":5.4},{"R":0.55,"E":17,"z":5.4},{"R":0.56,"E":17,"z":5.4},{"R":0.57,"E":17,"z":5.4},{"R":0.58,"E":17,"z":5.4},{"R":0.59,"E":17,"z":5.4},{"R":0.6,"E":17,"z":5.4},{"R":0.61,"E":17,"z":5.4},{"R":0.62,"E":17,"z":5.5},{"R":0.63,"E":17,"z":5.5},{"R":0.64,"E":17,"z":5.5},{"R":0.65,"E":17,"z":5.5},{"R":0.66,"E":17,"z":5.5},{"R":0.67,"E":17,"z":5.5},{"R":0.68,"E":17,"z":5.5},{"R":0.69,"E":17,"z":5.5},{"R":0.7,"E":17,"z":5.5},
{"R":0.31,"E":17.9,"z":4.3},{"R":0.32,"E":17.9,"z":4.3},{"R":0.33,"E":17.9,"z":4.3},{"R":0.34,"E":17.9,"z":4.3},{"R":0.35,"E":17.9,"z":4.3},{"R":0.36,"E":17.9,"z":4.4},{"R":0.37,"E":17.9,"z":4.4},{"R":0.38,"E":17.9,"z":4.4},{"R":0.39,"E":17.9,"z":4.4},{"R":0.4,"E":17.9,"z":4.4},{"R":0.41,"E":17.9,"z":4.4},{"R":0.42,"E":17.9,"z":4.4},{"R":0.43,"E":17.9,"z":4.4},{"R":0.44,"E":17.9,"z":4.4},{"R":0.45,"E":17.9,"z":4.5},{"R":0.46,"E":17.9,"z":4.5},{"R":0.47,"E":17.9,"z":4.5},{"R":0.48,"E":17.9,"z":4.5},{"R":0.49,"E":17.9,"z":4.5},{"R":0.5,"E":17.9,"z":4.5},{"R":0.51,"E":17.9,"z":4.5},{"R":0.52,"E":17.9,"z":4.5},{"R":0.53,"E":17.9,"z":4.5},{"R":0.54,"E":17.9,"z":4.5},{"R":0.55,"E":17.9,"z":4.6},{"R":0.56,"E":17.9,"z":4.6},{"R":0.57,"E":17.9,"z":4.6},{"R":0.58,"E":17.9,"z":4.6},{"R":0.59,"E":17.9,"z":4.6},{"R":0.6,"E":17.9,"z":4.6},{"R":0.61,"E":17.9,"z":4.6},{"R":0.62,"E":17.9,"z":4.6},{"R":0.63,"E":17.9,"z":4.6},{"R":0.64,"E":17.9,"z":4.6},{"R":0.65,"E":17.9,"z":4.7},{"R":0.66,"E":17.9,"z":4.7},{"R":0.67,"E":17.9,"z":4.7},{"R":0.68,"E":17.9,"z":4.7},{"R":0.69,"E":17.9,"z":4.7},{"R":0.7,"E":17.9,"z":4.7},
{"R":0.31,"E":18.8,"z":3.5},{"R":0.32,"E":18.8,"z":3.5},{"R":0.33,"E":18.8,"z":3.5},{"R":0.34,"E":18.8,"z":3.5},{"R":0.35,"E":18.8,"z":3.6},{"R":0.36,"E":18.8,"z":3.6},{"R":0.37,"E":18.8,"z":3.6},{"R":0.38,"E":18.8,"z":3.6},{"R":0.39,"E":18.8,"z":3.6},{"R":0.4,"E":18.8,"z":3.6},{"R":0.41,"E":18.8,"z":3.6},{"R":0.42,"E":18.8,"z":3.6},{"R":0.43,"E":18.8,"z":3.7},{"R":0.44,"E":18.8,"z":3.7},{"R":0.45,"E":18.8,"z":3.7},{"R":0.46,"E":18.8,"z":3.7},{"R":0.47,"E":18.8,"z":3.7},{"R":0.48,"E":18.8,"z":3.7},{"R":0.49,"E":18.8,"z":3.7},{"R":0.5,"E":18.8,"z":3.7},{"R":0.51,"E":18.8,"z":3.8},{"R":0.52,"E":18.8,"z":3.8},{"R":0.53,"E":18.8,"z":3.8},{"R":0.54,"E":18.8,"z":3.8},{"R":0.55,"E":18.8,"z":3.8},{"R":0.56,"E":18.8,"z":3.8},{"R":0.57,"E":18.8,"z":3.8},{"R":0.58,"E":18.8,"z":3.8},{"R":0.59,"E":18.8,"z":3.9},{"R":0.6,"E":18.8,"z":3.9},{"R":0.61,"E":18.8,"z":3.9},{"R":0.62,"E":18.8,"z":3.9},{"R":0.63,"E":18.8,"z":3.9},{"R":0.64,"E":18.8,"z":3.9},{"R":0.65,"E":18.8,"z":3.9},{"R":0.66,"E":18.8,"z":3.9},{"R":0.67,"E":18.8,"z":4.0},{"R":0.68,"E":18.8,"z":4.0},{"R":0.69,"E":18.8,"z":4.0},{"R":0.7,"E":18.8,"z":4.0},
{"R":0.31,"E":19.7,"z":2.9},{"R":0.32,"E":19.7,"z":2.9},{"R":0.33,"E":19.7,"z":2.9},{"R":0.34,"E":19.7,"z":2.9},{"R":0.35,"E":19.7,"z":3.0},{"R":0.36,"E":19.7,"z":3.0},{"R":0.37,"E":19.7,"z":3.0},{"R":0.38,"E":19.7,"z":3.0},{"R":0.39,"E":19.7,"z":3.0},{"R":0.4,"E":19.7,"z":3.0},{"R":0.41,"E":19.7,"z":3.0},{"R":0.42,"E":19.7,"z":3.0},{"R":0.43,"E":19.7,"z":3.1},{"R":0.44,"E":19.7,"z":3.1},{"R":0.45,"E":19.7,"z":3.1},{"R":0.46,"E":19.7,"z":3.1},{"R":0.47,"E":19.7,"z":3.1},{"R":0.48,"E":19.7,"z":3.1},{"R":0.49,"E":19.7,"z":3.1},{"R":0.5,"E":19.7,"z":3.1},{"R":0.51,"E":19.7,"z":3.2},{"R":0.52,"E":19.7,"z":3.2},{"R":0.53,"E":19.7,"z":3.2},{"R":0.54,"E":19.7,"z":3.2},{"R":0.55,"E":19.7,"z":3.2},{"R":0.56,"E":19.7,"z":3.2},{"R":0.57,"E":19.7,"z":3.2},{"R":0.58,"E":19.7,"z":3.2},{"R":0.59,"E":19.7,"z":3.3},{"R":0.6,"E":19.7,"z":3.3},{"R":0.61,"E":19.7,"z":3.3},{"R":0.62,"E":19.7,"z":3.3},{"R":0.63,"E":19.7,"z":3.3},{"R":0.64,"E":19.7,"z":3.3},{"R":0.65,"E":19.7,"z":3.3},{"R":0.66,"E":19.7,"z":3.3},{"R":0.67,"E":19.7,"z":3.4},{"R":0.68,"E":19.7,"z":3.4},{"R":0.69,"E":19.7,"z":3.4},{"R":0.7,"E":19.7,"z":3.4},
{"R":0.31,"E":20.6,"z":2.4},{"R":0.32,"E":20.6,"z":2.4},{"R":0.33,"E":20.6,"z":2.4},{"R":0.34,"E":20.6,"z":2.4},{"R":0.35,"E":20.6,"z":2.4},{"R":0.36,"E":20.6,"z":2.5},{"R":0.37,"E":20.6,"z":2.5},{"R":0.38,"E":20.6,"z":2.5},{"R":0.39,"E":20.6,"z":2.5},{"R":0.4,"E":20.6,"z":2.5},{"R":0.41,"E":20.6,"z":2.5},{"R":0.42,"E":20.6,"z":2.5},{"R":0.43,"E":20.6,"z":2.5},{"R":0.44,"E":20.6,"z":2.5},{"R":0.45,"E":20.6,"z":2.6},{"R":0.46,"E":20.6,"z":2.6},{"R":0.47,"E":20.6,"z":2.6},{"R":0.48,"E":20.6,"z":2.6},{"R":0.49,"E":20.6,"z":2.6},{"R":0.5,"E":20.6,"z":2.6},{"R":0.51,"E":20.6,"z":2.6},{"R":0.52,"E":20.6,"z":2.6},{"R":0.53,"E":20.6,"z":2.6},{"R":0.54,"E":20.6,"z":2.6},{"R":0.55,"E":20.6,"z":2.7},{"R":0.56,"E":20.6,"z":2.7},{"R":0.57,"E":20.6,"z":2.7},{"R":0.58,"E":20.6,"z":2.7},{"R":0.59,"E":20.6,"z":2.7},{"R":0.6,"E":20.6,"z":2.7},{"R":0.61,"E":20.6,"z":2.7},{"R":0.62,"E":20.6,"z":2.7},{"R":0.63,"E":20.6,"z":2.7},{"R":0.64,"E":20.6,"z":2.7},{"R":0.65,"E":20.6,"z":2.8},{"R":0.66,"E":20.6,"z":2.8},{"R":0.67,"E":20.6,"z":2.8},{"R":0.68,"E":20.6,"z":2.8},{"R":0.69,"E":20.6,"z":2.8},{"R":0.7,"E":20.6,"z":2.8},
{"R":0.31,"E":21.4,"z":2.0},{"R":0.32,"E":21.4,"z":2.0},{"R":0.33,"E":21.4,"z":2.0},{"R":0.34,"E":21.4,"z":2.0},{"R":0.35,"E":21.4,"z":2.0},{"R":0.36,"E":21.4,"z":2.0},{"R":0.37,"E":21.4,"z":2.0},{"R":0.38,"E":21.4,"z":2.1},{"R":0.39,"E":21.4,"z":2.1},{"R":0.4,"E":21.4,"z":2.1},{"R":0.41,"E":21.4,"z":2.1},{"R":0.42,"E":21.4,"z":2.1},{"R":0.43,"E":21.4,"z":2.1},{"R":0.44,"E":21.4,"z":2.1},{"R":0.45,"E":21.4,"z":2.1},{"R":0.46,"E":21.4,"z":2.1},{"R":0.47,"E":21.4,"z":2.1},{"R":0.48,"E":21.4,"z":2.1},{"R":0.49,"E":21.4,"z":2.1},{"R":0.5,"E":21.4,"z":2.2},{"R":0.51,"E":21.4,"z":2.2},{"R":0.52,"E":21.4,"z":2.2},{"R":0.53,"E":21.4,"z":2.2},{"R":0.54,"E":21.4,"z":2.2},{"R":0.55,"E":21.4,"z":2.2},{"R":0.56,"E":21.4,"z":2.2},{"R":0.57,"E":21.4,"z":2.2},{"R":0.58,"E":21.4,"z":2.2},{"R":0.59,"E":21.4,"z":2.2},{"R":0.6,"E":21.4,"z":2.2},{"R":0.61,"E":21.4,"z":2.2},{"R":0.62,"E":21.4,"z":2.3},{"R":0.63,"E":21.4,"z":2.3},{"R":0.64,"E":21.4,"z":2.3},{"R":0.65,"E":21.4,"z":2.3},{"R":0.66,"E":21.4,"z":2.3},{"R":0.67,"E":21.4,"z":2.3},{"R":0.68,"E":21.4,"z":2.3},{"R":0.69,"E":21.4,"z":2.3},{"R":0.7,"E":21.4,"z":2.3},
{"R":0.31,"E":22.3,"z":1.6},{"R":0.32,"E":22.3,"z":1.6},{"R":0.33,"E":22.3,"z":1.6},{"R":0.34,"E":22.3,"z":1.6},{"R":0.35,"E":22.3,"z":1.6},{"R":0.36,"E":22.3,"z":1.6},{"R":0.37,"E":22.3,"z":1.6},{"R":0.38,"E":22.3,"z":1.6},{"R":0.39,"E":22.3,"z":1.6},{"R":0.4,"E":22.3,"z":1.6},{"R":0.41,"E":22.3,"z":1.7},{"R":0.42,"E":22.3,"z":1.7},{"R":0.43,"E":22.3,"z":1.7},{"R":0.44,"E":22.3,"z":1.7},{"R":0.45,"E":22.3,"z":1.7},{"R":0.46,"E":22.3,"z":1.7},{"R":0.47,"E":22.3,"z":1.7},{"R":0.48,"E":22.3,"z":1.7},{"R":0.49,"E":22.3,"z":1.7},{"R":0.5,"E":22.3,"z":1.7},{"R":0.51,"E":22.3,"z":1.7},{"R":0.52,"E":22.3,"z":1.7},{"R":0.53,"E":22.3,"z":1.7},{"R":0.54,"E":22.3,"z":1.7},{"R":0.55,"E":22.3,"z":1.7},{"R":0.56,"E":22.3,"z":1.7},{"R":0.57,"E":22.3,"z":1.7},{"R":0.58,"E":22.3,"z":1.7},{"R":0.59,"E":22.3,"z":1.7},{"R":0.6,"E":22.3,"z":1.7},{"R":0.61,"E":22.3,"z":1.8},{"R":0.62,"E":22.3,"z":1.8},{"R":0.63,"E":22.3,"z":1.8},{"R":0.64,"E":22.3,"z":1.8},{"R":0.65,"E":22.3,"z":1.8},{"R":0.66,"E":22.3,"z":1.8},{"R":0.67,"E":22.3,"z":1.8},{"R":0.68,"E":22.3,"z":1.8},{"R":0.69,"E":22.3,"z":1.8},{"R":0.7,"E":22.3,"z":1.8},
{"R":0.31,"E":23.2,"z":1.2},{"R":0.32,"E":23.2,"z":1.2},{"R":0.33,"E":23.2,"z":1.2},{"R":0.34,"E":23.2,"z":1.2},{"R":0.35,"E":23.2,"z":1.2},{"R":0.36,"E":23.2,"z":1.2},{"R":0.37,"E":23.2,"z":1.2},{"R":0.38,"E":23.2,"z":1.2},{"R":0.39,"E":23.2,"z":1.2},{"R":0.4,"E":23.2,"z":1.2},{"R":0.41,"E":23.2,"z":1.2},{"R":0.42,"E":23.2,"z":1.2},{"R":0.43,"E":23.2,"z":1.2},{"R":0.44,"E":23.2,"z":1.2},{"R":0.45,"E":23.2,"z":1.2},{"R":0.46,"E":23.2,"z":1.2},{"R":0.47,"E":23.2,"z":1.2},{"R":0.48,"E":23.2,"z":1.2},{"R":0.49,"E":23.2,"z":1.2},{"R":0.5,"E":23.2,"z":1.2},{"R":0.51,"E":23.2,"z":1.3},{"R":0.52,"E":23.2,"z":1.3},{"R":0.53,"E":23.2,"z":1.3},{"R":0.54,"E":23.2,"z":1.3},{"R":0.55,"E":23.2,"z":1.3},{"R":0.56,"E":23.2,"z":1.3},{"R":0.57,"E":23.2,"z":1.3},{"R":0.58,"E":23.2,"z":1.3},{"R":0.59,"E":23.2,"z":1.3},{"R":0.6,"E":23.2,"z":1.3},{"R":0.61,"E":23.2,"z":1.3},{"R":0.62,"E":23.2,"z":1.3},{"R":0.63,"E":23.2,"z":1.3},{"R":0.64,"E":23.2,"z":1.3},{"R":0.65,"E":23.2,"z":1.3},{"R":0.66,"E":23.2,"z":1.3},{"R":0.67,"E":23.2,"z":1.3},{"R":0.68,"E":23.2,"z":1.3},{"R":0.69,"E":23.2,"z":1.3},{"R":0.7,"E":23.2,"z":1.3},
{"R":0.31,"E":24.1,"z":0.9},{"R":0.32,"E":24.1,"z":0.9},{"R":0.33,"E":24.1,"z":0.9},{"R":0.34,"E":24.1,"z":0.9},{"R":0.35,"E":24.1,"z":0.9},{"R":0.36,"E":24.1,"z":0.9},{"R":0.37,"E":24.1,"z":0.9},{"R":0.38,"E":24.1,"z":0.9},{"R":0.39,"E":24.1,"z":0.9},{"R":0.4,"E":24.1,"z":0.9},{"R":0.41,"E":24.1,"z":0.9},{"R":0.42,"E":24.1,"z":0.9},{"R":0.43,"E":24.1,"z":0.9},{"R":0.44,"E":24.1,"z":0.9},{"R":0.45,"E":24.1,"z":0.9},{"R":0.46,"E":24.1,"z":0.9},{"R":0.47,"E":24.1,"z":0.9},{"R":0.48,"E":24.1,"z":0.9},{"R":0.49,"E":24.1,"z":0.9},{"R":0.5,"E":24.1,"z":0.9},{"R":0.51,"E":24.1,"z":0.9},{"R":0.52,"E":24.1,"z":0.9},{"R":0.53,"E":24.1,"z":0.9},{"R":0.54,"E":24.1,"z":0.9},{"R":0.55,"E":24.1,"z":0.9},{"R":0.56,"E":24.1,"z":0.9},{"R":0.57,"E":24.1,"z":0.9},{"R":0.58,"E":24.1,"z":0.9},{"R":0.59,"E":24.1,"z":0.9},{"R":0.6,"E":24.1,"z":0.9},{"R":0.61,"E":24.1,"z":0.9},{"R":0.62,"E":24.1,"z":0.9},{"R":0.63,"E":24.1,"z":0.9},{"R":0.64,"E":24.1,"z":0.9},{"R":0.65,"E":24.1,"z":0.9},{"R":0.66,"E":24.1,"z":0.9},{"R":0.67,"E":24.1,"z":0.9},{"R":0.68,"E":24.1,"z":0.9},{"R":0.69,"E":24.1,"z":0.9},{"R":0.7,"E":24.1,"z":0.9},
{"R":0.31,"E":25,"z":0.4},{"R":0.32,"E":25,"z":0.4},{"R":0.33,"E":25,"z":0.4},{"R":0.34,"E":25,"z":0.4},{"R":0.35,"E":25,"z":0.4},{"R":0.36,"E":25,"z":0.4},{"R":0.37,"E":25,"z":0.4},{"R":0.38,"E":25,"z":0.4},{"R":0.39,"E":25,"z":0.4},{"R":0.4,"E":25,"z":0.4},{"R":0.41,"E":25,"z":0.4},{"R":0.42,"E":25,"z":0.4},{"R":0.43,"E":25,"z":0.4},{"R":0.44,"E":25,"z":0.4},{"R":0.45,"E":25,"z":0.4},{"R":0.46,"E":25,"z":0.4},{"R":0.47,"E":25,"z":0.4},{"R":0.48,"E":25,"z":0.4},{"R":0.49,"E":25,"z":0.4},{"R":0.5,"E":25,"z":0.4},{"R":0.51,"E":25,"z":0.4},{"R":0.52,"E":25,"z":0.4},{"R":0.53,"E":25,"z":0.4},{"R":0.54,"E":25,"z":0.4},{"R":0.55,"E":25,"z":0.4},{"R":0.56,"E":25,"z":0.4},{"R":0.57,"E":25,"z":0.4},{"R":0.58,"E":25,"z":0.4},{"R":0.59,"E":25,"z":0.4},{"R":0.6,"E":25,"z":0.4},{"R":0.61,"E":25,"z":0.4},{"R":0.62,"E":25,"z":0.4},{"R":0.63,"E":25,"z":0.4},{"R":0.64,"E":25,"z":0.4},{"R":0.65,"E":25,"z":0.4},{"R":0.66,"E":25,"z":0.4},{"R":0.67,"E":25,"z":0.4},{"R":0.68,"E":25,"z":0.4},{"R":0.69,"E":25,"z":0.4},{"R":0.7,"E":25,"z":0.4}
]},
"encoding":{"x":{"field":"px","type":"quantitative","axis":null,"scale":{"domain":[22,820],"nice":false,"zero":false}},"y":{"field":"py","type":"quantitative","axis":null,"scale":{"domain":[0,729],"reverse":true,"nice":false,"zero":false}}},
"layer":[
{"data":{"name":"frame"},"transform":[{"filter":"datum.g=='dot'"},{"calculate":"241+542*(datum.R-0.3)/0.4-208*datum.E/25","as":"px"},{"calculate":"468+55*(datum.R-0.3)/0.4+140*datum.E/25-3*(datum.R-0.3)/0.4*datum.E/25-4.23*datum.z","as":"py"},{"calculate":"241+542*(datum.R2-0.3)/0.4-208*datum.E2/25","as":"qx"},{"calculate":"468+55*(datum.R2-0.3)/0.4+140*datum.E2/25-3*(datum.R2-0.3)/0.4*datum.E2/25-4.23*datum.z2","as":"qy"}],"mark":{"type":"rule","stroke":"#666","strokeWidth":1,"strokeDash":[2,3]},"encoding":{"x2":{"field":"qx"},"y2":{"field":"qy"}}},
{"data":{"name":"frame"},"transform":[{"filter":"datum.g=='edge'"},{"calculate":"241+542*(datum.R-0.3)/0.4-208*datum.E/25","as":"px"},{"calculate":"468+55*(datum.R-0.3)/0.4+140*datum.E/25-3*(datum.R-0.3)/0.4*datum.E/25-4.23*datum.z","as":"py"},{"calculate":"241+542*(datum.R2-0.3)/0.4-208*datum.E2/25","as":"qx"},{"calculate":"468+55*(datum.R2-0.3)/0.4+140*datum.E2/25-3*(datum.R2-0.3)/0.4*datum.E2/25-4.23*datum.z2","as":"qy"}],"mark":{"type":"rule","stroke":"#555","strokeWidth":1.1},"encoding":{"x2":{"field":"qx"},"y2":{"field":"qy"}}},
{"data":{"name":"surface"},"transform":[
{"window":[{"op":"dense_rank","as":"i"}],"sort":[{"field":"R"}]},
{"window":[{"op":"dense_rank","as":"j"}],"sort":[{"field":"E"}]},
{"joinaggregate":[{"op":"max","field":"i","as":"ni"},{"op":"max","field":"j","as":"nj"}]},
{"calculate":"241+542*(datum.R-0.3)/0.4-208*datum.E/25","as":"px"},
{"calculate":"468+55*(datum.R-0.3)/0.4+140*datum.E/25-3*(datum.R-0.3)/0.4*datum.E/25-4.23*datum.z","as":"py"},
{"calculate":"[[0,0,0],[0,0,4],[1,0,1],[1,1,2],[0,1,3]]","as":"c"},
{"flatten":["c"]},
{"calculate":"datum.i-datum.c[0]","as":"ci"},{"calculate":"datum.j-datum.c[1]","as":"cj"},{"calculate":"datum.c[2]","as":"o"},
{"filter":"datum.ci>=1&&datum.ci<datum.ni&&datum.cj>=1&&datum.cj<datum.nj"},
{"calculate":"datum.ci*1000+datum.cj","as":"cell"},
{"joinaggregate":[{"op":"mean","field":"z","as":"zm"}],"groupby":["cell"]}],
"mark":{"type":"line","stroke":"#1c1c1c","strokeWidth":1,"strokeOpacity":0.85,"strokeJoin":"round"},
"encoding":{"detail":{"field":"cell"},"order":{"field":"o","type":"quantitative"},"fill":{"field":"zm","type":"quantitative","legend":null,"scale":{"type":"quantize","domain":[0,86],"range":["#2b389c","#1b54d0","#1860da","#1370de","#127cd9","#1388d4","#0d94d0","#07a2cb","#15abbc","#26b3ac","#41b99b","#66bc88","#8bbf75","#aabd69","#c8bc5c","#dfbf4d","#f2c53c","#fdd02c","#fbe61d","#f9fb0e"]}}}},
{"data":{"name":"frame"},"transform":[{"filter":"datum.g=='over'"},{"calculate":"241+542*(datum.R-0.3)/0.4-208*datum.E/25","as":"px"},{"calculate":"468+55*(datum.R-0.3)/0.4+140*datum.E/25-3*(datum.R-0.3)/0.4*datum.E/25-4.23*datum.z","as":"py"},{"calculate":"241+542*(datum.R2-0.3)/0.4-208*datum.E2/25","as":"qx"},{"calculate":"468+55*(datum.R2-0.3)/0.4+140*datum.E2/25-3*(datum.R2-0.3)/0.4*datum.E2/25-4.23*datum.z2","as":"qy"}],"mark":{"type":"rule","stroke":"#222","strokeWidth":1,"strokeOpacity":0.45},"encoding":{"x2":{"field":"qx"},"y2":{"field":"qy"}}},
{"data":{"name":"frame"},"transform":[{"filter":"datum.g=='axis'"},{"calculate":"241+542*(datum.R-0.3)/0.4-208*datum.E/25","as":"px"},{"calculate":"468+55*(datum.R-0.3)/0.4+140*datum.E/25-3*(datum.R-0.3)/0.4*datum.E/25-4.23*datum.z","as":"py"},{"calculate":"241+542*(datum.R2-0.3)/0.4-208*datum.E2/25","as":"qx"},{"calculate":"468+55*(datum.R2-0.3)/0.4+140*datum.E2/25-3*(datum.R2-0.3)/0.4*datum.E2/25-4.23*datum.z2","as":"qy"}],"mark":{"type":"rule","stroke":"#333","strokeWidth":1.2},"encoding":{"x2":{"field":"qx"},"y2":{"field":"qy"}}},
{"data":{"name":"ticks"},"transform":[
{"calculate":"datum.a=='R'?datum.v:datum.a=='E'?0.7:0.3","as":"R"},
{"calculate":"datum.a=='E'?datum.v:25","as":"E"},
{"calculate":"datum.a=='Z'?datum.v:0","as":"z"},
{"calculate":"datum.m?1:0.5","as":"L"},
{"calculate":"datum.a=='R'?datum.v:datum.a=='E'?0.7+0.0044*datum.L:0.3-0.008*datum.L","as":"R2"},
{"calculate":"datum.a=='R'?-2.6*datum.L:datum.a=='E'?-1*datum.L:datum.v","as":"z2"},
{"calculate":"241+542*(datum.R-0.3)/0.4-208*datum.E/25","as":"px"},{"calculate":"468+55*(datum.R-0.3)/0.4+140*datum.E/25-3*(datum.R-0.3)/0.4*datum.E/25-4.23*datum.z","as":"py"},{"calculate":"241+542*(datum.R2-0.3)/0.4-208*datum.E/25","as":"qx"},{"calculate":"468+55*(datum.R2-0.3)/0.4+140*datum.E/25-3*(datum.R2-0.3)/0.4*datum.E/25-4.23*datum.z2","as":"qy"}],
"mark":{"type":"rule","stroke":"#222","strokeWidth":1},"encoding":{"x2":{"field":"qx"},"y2":{"field":"qy"}}},
{"data":{"name":"labels"},"transform":[{"filter":"datum.a=='R'"},{"calculate":"241+542*(datum.R-0.3)/0.4-208*datum.E/25","as":"px"},{"calculate":"468+55*(datum.R-0.3)/0.4+140*datum.E/25-3*(datum.R-0.3)/0.4*datum.E/25","as":"py"}],"mark":{"type":"text","clip":true,"font":"Liberation Sans","fontSize":23,"dx":-4,"dy":30,"color":"#000"},"encoding":{"text":{"field":"t"}}},
{"data":{"name":"labels"},"transform":[{"filter":"datum.a=='E'"},{"calculate":"241+542*(datum.R-0.3)/0.4-208*datum.E/25","as":"px"},{"calculate":"468+55*(datum.R-0.3)/0.4+140*datum.E/25-3*(datum.R-0.3)/0.4*datum.E/25","as":"py"}],"mark":{"type":"text","font":"Liberation Sans","fontSize":23,"dx":30,"dy":23,"color":"#000"},"encoding":{"text":{"field":"t"}}},
{"data":{"values":[{"t":"R","R":0.7,"E":25}]},"transform":[{"calculate":"241+542*(datum.R-0.3)/0.4-208*datum.E/25","as":"px"},{"calculate":"468+55*(datum.R-0.3)/0.4+140*datum.E/25-3*(datum.R-0.3)/0.4*datum.E/25","as":"py"}],"mark":{"type":"text","font":"Liberation Sans","fontSize":23,"dx":-23,"dy":53,"color":"#000"},"encoding":{"text":{"field":"t"}}},
{"data":{"values":[{"t":"E cut (GeV)","R":0.734,"E":17,"z":-14}]},"transform":[{"calculate":"241+542*(datum.R-0.3)/0.4-208*datum.E/25","as":"px"},{"calculate":"468+55*(datum.R-0.3)/0.4+140*datum.E/25-3*(datum.R-0.3)/0.4*datum.E/25-4.23*datum.z","as":"py"}],"mark":{"type":"text","font":"Liberation Sans","fontSize":23,"angle":327,"color":"#000"},"encoding":{"text":{"field":"t"}}},
{"data":{"values":[{"t":"#theta in range [1.0, 2.1]","R":0.507,"E":0,"z":83.3}]},"transform":[{"calculate":"241+542*(datum.R-0.3)/0.4-208*datum.E/25","as":"px"},{"calculate":"468+55*(datum.R-0.3)/0.4+140*datum.E/25-3*(datum.R-0.3)/0.4*datum.E/25-4.23*datum.z","as":"py"}],"mark":{"type":"text","font":"Liberation Sans","fontSize":20,"fontWeight":"bold","color":"#ff0000"},"encoding":{"text":{"field":"t"}}}
]}
